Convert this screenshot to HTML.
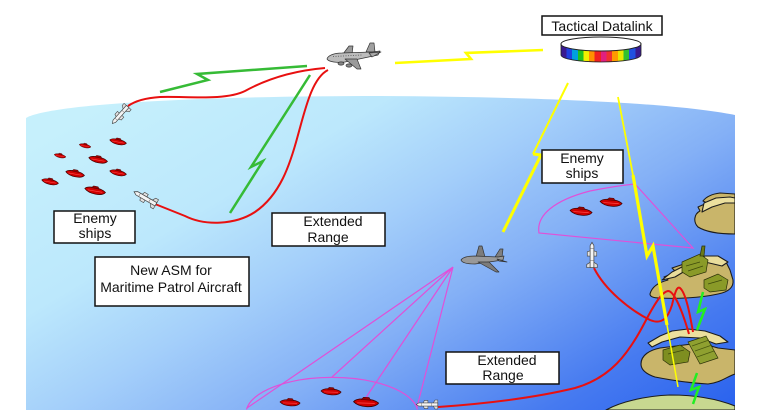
<!DOCTYPE html>
<html><head><meta charset="utf-8"><style>
html,body{margin:0;padding:0;background:#fff;width:770px;height:410px;overflow:hidden;}
svg{display:block;}
text{font-family:"Liberation Sans",Arial,sans-serif;font-size:14px;fill:#111;}
</style></head><body>
<svg width="770" height="410" viewBox="0 0 770 410" xmlns="http://www.w3.org/2000/svg">
<defs>
<linearGradient id="sea" gradientUnits="userSpaceOnUse" x1="100" y1="100" x2="400" y2="600">
<stop offset="0" stop-color="#c6f0fc"/>
<stop offset="0.25" stop-color="#bce8fc"/>
<stop offset="0.42" stop-color="#a4cffa"/>
<stop offset="0.6" stop-color="#84b0f6"/>
<stop offset="0.85" stop-color="#467af0"/>
<stop offset="1" stop-color="#2c64ee"/>
</linearGradient>
<linearGradient id="rb" x1="0" y1="0" x2="1" y2="0">
<stop offset="0" stop-color="#3a1a90"/><stop offset="0.07" stop-color="#3a1a90"/>
<stop offset="0.07" stop-color="#2040e0"/><stop offset="0.14" stop-color="#2040e0"/>
<stop offset="0.14" stop-color="#00a0e0"/><stop offset="0.21" stop-color="#00a0e0"/>
<stop offset="0.21" stop-color="#20c020"/><stop offset="0.28" stop-color="#20c020"/>
<stop offset="0.28" stop-color="#f0f000"/><stop offset="0.35" stop-color="#f0f000"/>
<stop offset="0.35" stop-color="#ff9000"/><stop offset="0.42" stop-color="#ff9000"/>
<stop offset="0.42" stop-color="#f02020"/><stop offset="0.5" stop-color="#f02020"/>
<stop offset="0.5" stop-color="#e02080"/><stop offset="0.57" stop-color="#e02080"/>
<stop offset="0.57" stop-color="#f03030"/><stop offset="0.64" stop-color="#f03030"/>
<stop offset="0.64" stop-color="#ff9a00"/><stop offset="0.71" stop-color="#ff9a00"/>
<stop offset="0.71" stop-color="#e8e800"/><stop offset="0.78" stop-color="#e8e800"/>
<stop offset="0.78" stop-color="#30c030"/><stop offset="0.85" stop-color="#30c030"/>
<stop offset="0.85" stop-color="#2050e0"/><stop offset="0.93" stop-color="#2050e0"/>
<stop offset="0.93" stop-color="#3a1a90"/><stop offset="1" stop-color="#3a1a90"/>
</linearGradient>
<clipPath id="clipR"><rect x="0" y="0" width="735" height="410"/></clipPath>
<g id="ship">
<path d="M-10,0 C-8,-3.6 5,-4.4 10,-1 C8,3.4 -5,4.4 -10,0Z" fill="#d00000" stroke="#400000" stroke-width="0.7"/>
<path d="M-4,-2.4 L-2.5,-4.4 L2,-4.6 L3.5,-2.6Z" fill="#980000" stroke="#400000" stroke-width="0.4"/>
<path d="M-7,0.6 L7,-0.4" stroke="#ff4a4a" stroke-width="0.6"/>
</g>
<g id="msl">
<path d="M-12,-5 L-9,-5 L-7,-1.8 L-7,1.8 L-9,5 L-12,5Z" fill="#dcdcdc" stroke="#444" stroke-width="0.6"/>
<path d="M-1,-4.5 L3,-4.5 L4,-1.8 L4,1.8 L3,4.5 L-1,4.5Z" fill="#e4e4e4" stroke="#444" stroke-width="0.6"/>
<path d="M-12,-1.8 L9,-1.8 L12,0 L9,1.8 L-12,1.8Z" fill="#f4f4f4" stroke="#444" stroke-width="0.7"/>
<path d="M-5,-1.8 L-5,1.8 M6,-1.8 L6,1.8" stroke="#666" stroke-width="0.5"/>
</g>
</defs>

<rect width="770" height="410" fill="#fff"/>

<g clip-path="url(#clipR)">
<path d="M26,410 L26,118 C50,104 200,96 380,96 C560,97 680,104 735,115 L735,410 Z" fill="url(#sea)"/>

<g fill="none" stroke="#e050d8" stroke-width="1.2">
<path d="M539,233 C536,215 555,200 590,191 C610,187 625,185 635,184 L693,248 Z"/>
<path d="M246.5,409.5 A86,36 0 0 1 417.5,409.5"/>
<path d="M453,267 L247,408 M453,267 L332,377 M453,267 L363,402 M453,267 L417,407"/>
</g>

<use href="#ship" transform="translate(118,142) rotate(14) scale(0.85)"/>
<use href="#ship" transform="translate(85,146) rotate(14) scale(0.6)"/>
<use href="#ship" transform="translate(60,156) rotate(14) scale(0.6)"/>
<use href="#ship" transform="translate(98,160) rotate(14) scale(0.95)"/>
<use href="#ship" transform="translate(75,174) rotate(14) scale(0.95)"/>
<use href="#ship" transform="translate(118,173) rotate(14) scale(0.85)"/>
<use href="#ship" transform="translate(50,182) rotate(14) scale(0.85)"/>
<use href="#ship" transform="translate(95,191) rotate(14) scale(1.05)"/>

<use href="#ship" transform="translate(581,212) rotate(8) scale(1.1)"/>
<use href="#ship" transform="translate(611,203) rotate(8) scale(1.1)"/>

<use href="#ship" transform="translate(290,403) rotate(6) scale(1)"/>
<use href="#ship" transform="translate(331,392) rotate(6) scale(1)"/>
<use href="#ship" transform="translate(366,403) rotate(6) scale(1.25)"/>

<g stroke="#1c1c1c" stroke-width="1.1" stroke-linejoin="round">
<path d="M735,194 L720,193 C712,194 706,197 703,201 L707,203 L698,207 L700,211 C694,214 693,222 698,227 C706,232 720,234 735,234Z" fill="#c9b56a"/>
<path d="M704,203 L716,198 L730,197 L735,198 L735,203 L725,203 L712,207 L702,212Z" fill="#ece09e"/>
<path d="M650,294 C652,286 660,282 668,280 L664,277 L676,272 L672,268 L690,262 L700,256 L712,258 L726,262 L730,270 L733,280 C734,288 728,292 718,294 C700,298 675,299 660,298 C654,298 650,297 650,294Z" fill="#c9b56a"/>
<path d="M662,280 L672,272 L690,263 L705,256 L718,256 L728,262 L722,266 L705,262 L690,268 L675,277Z" fill="#e9dd9c"/>
<path d="M641,364 C641,355 650,350 660,348 L700,343 L718,348 L735,350 L735,374 C728,376 720,383 708,384 C690,383 670,380 655,377 C646,374 641,370 641,364Z" fill="#c9b56a"/>
<path d="M648,343 L660,336 L672,331 L688,329 L705,331 L720,336 L728,342 L716,344 L700,338 L680,337 L662,342 L652,347Z" fill="#ece09e"/>
<path d="M606,410 C620,402 645,396 670,395 C700,395 720,400 735,406 L735,410 Z" fill="#c8d890"/>
</g>
<g stroke="#2a3008" stroke-width="0.7">
<path d="M682,262 L700,254 L708,260 L706,272 L690,277 L682,272Z" fill="#8a9a28"/>
<path d="M700,256 L702,246 L705,246 L704,256Z" fill="#6a7a18"/>
<path d="M686,266 L700,262 M688,271 L703,266" stroke="#3e4a0c"/>
<path d="M704,280 L718,274 L728,280 L726,290 L710,292 L704,288Z" fill="#8a9a28"/>
<path d="M708,284 L722,280" stroke="#3e4a0c"/>
<path d="M688,342 L706,336 L718,358 L700,364Z" fill="#8fa030"/>
<path d="M692,346 L709,340 M695,351 L712,345 M697,357 L714,351" stroke="#4a5810"/>
<path d="M663,350 L680,345 L690,352 L688,362 L670,365 L663,360Z" fill="#7e8e20"/>
<path d="M668,354 L684,350" stroke="#3e4a0c"/>
</g>

<g fill="none" stroke="#22ee22" stroke-width="2.5" stroke-linejoin="miter">
<polyline points="703,292 698,312 705,309 697,330"/>
<polyline points="697,373 691,390 699,387 693,404"/>
</g>

<g fill="none" stroke="#e81010" stroke-width="2">
<path d="M325,68 C290,71 265,80 245,91 C225,101 185,96 160,97 C145,98 135,101 128,106"/>
<path d="M328,70 C312,78 305,110 298,135 C290,165 280,195 255,212 C235,225 205,226 185,216 C170,210 160,206 155,204"/>
<path d="M594,268 C605,290 630,310 650,320 C662,325 668,318 672,305 C675,292 677,286 680,288 C686,293 690,315 693,332"/>
<path d="M438,407 C480,404 530,399 575,388 C610,378 628,355 645,322 C655,303 662,292 668,291 C674,291 682,310 689,334"/>
</g>

<g fill="none" stroke="#36bb36" stroke-width="2.5" stroke-linejoin="miter">
<polyline points="307,66 197,74 208,80 160,92"/>
<polyline points="310,75 251,167 263,161 230,213"/>
</g>

<g fill="none" stroke="#ffff00" stroke-linejoin="miter">
<polyline points="543,50 466,53 471,59 395,63" stroke-width="2.6"/>
<polyline points="568,83 533,154" stroke-width="2"/>
<polyline points="533,154 541,155 503,232" stroke-width="3"/>
<polyline points="618,97 633,175" stroke-width="1.8"/>
<polyline points="633,175 647,256 653,246 667,325" stroke-width="3.2"/>
<polyline points="667,325 678,387" stroke-width="1.5"/>
</g>
</g>

<use href="#msl" transform="translate(120,115) rotate(132) scale(0.95)"/>
<use href="#msl" transform="translate(145,198) rotate(-150) scale(1.05)"/>
<use href="#msl" transform="translate(592,255) rotate(-90) scale(1.05)"/>
<use href="#msl" transform="translate(427,404.5) rotate(180) scale(0.9)"/>

<g stroke="#333" stroke-width="0.7" stroke-linejoin="round">
<path d="M343,54 L349,46 L353,46 L352,54Z" fill="#9a9a9a"/>
<path d="M366,52 L370,43 L374,43 L375,52Z" fill="#a0a0a0"/>
<path d="M327,59 C328,55 335,53 342,53 L372,52 L380,51 L378,55 L345,62 C337,63 329,62 327,59Z" fill="#bcbcbc"/>
<path d="M369,53 L381,52 L372,57Z" fill="#a8a8a8"/>
<path d="M345,59 L357,69 L361,69 L357,59Z" fill="#9a9a9a"/>
<ellipse cx="341" cy="63.5" rx="3" ry="1.6" fill="#888"/>
<ellipse cx="349" cy="65.5" rx="3" ry="1.6" fill="#888"/>
<path d="M333,56.5 L362,55" stroke="#555" stroke-dasharray="1,1.5" stroke-width="0.8"/>
</g>

<g stroke="#333" stroke-width="0.7" stroke-linejoin="round">
<path d="M476,257 L479,246 L482,246 L485,257Z" fill="#7c7c7c"/>
<path d="M495,257 L500,249 L503,249 L502,257Z" fill="#808080"/>
<path d="M461,260 C463,257 468,256 475,256 L498,257 L504,256 L503,260 L475,264 C467,264 462,263 461,260Z" fill="#999"/>
<path d="M478,262 L496,272 L499,272 L489,262Z" fill="#7c7c7c"/>
<path d="M497,259 L507,262 L499,261Z" fill="#888"/>
</g>

<path d="M561,44 L561,55 A40,7 0 0 0 641,55 L641,44 Z" fill="url(#rb)" stroke="#222" stroke-width="0.8"/>
<ellipse cx="601" cy="44" rx="40" ry="7" fill="#fff" stroke="#222" stroke-width="1"/>

<g fill="#fff" stroke="#111" stroke-width="1.5">
<rect x="542" y="16" width="120" height="19"/>
<rect x="542" y="150" width="81" height="33"/>
<rect x="54" y="211" width="81" height="32"/>
<rect x="272" y="213" width="113" height="33"/>
<rect x="95" y="257" width="154" height="49"/>
<rect x="446" y="352" width="113" height="32"/>
</g>
<g text-anchor="middle">
<text x="602" y="31">Tactical Datalink</text>
<text x="582" y="163">Enemy</text>
<text x="582" y="178">ships</text>
<text x="95" y="223">Enemy</text>
<text x="95" y="238">ships</text>
<text x="333" y="226">Extended</text>
<text x="328" y="242">Range</text>
<text x="171" y="275">New ASM for</text>
<text x="171" y="292">Maritime Patrol Aircraft</text>
<text x="507" y="365">Extended</text>
<text x="503" y="380">Range</text>
</g>
</svg>
</body></html>
